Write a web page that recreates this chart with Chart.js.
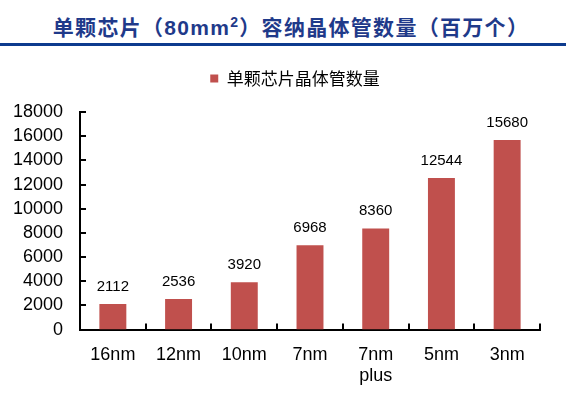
<!DOCTYPE html>
<html>
<head>
<meta charset="utf-8">
<script src="https://cdn.jsdelivr.net/npm/chart.js@4.4.0/dist/chart.umd.min.js"></script>
<style>
  html, body { margin: 0; padding: 0; background: #fff; }
  #wrap { position: relative; width: 566px; height: 393px; overflow: hidden; }
  #title {
    position: absolute; left: 8px; top: 10px; width: 566px; text-align: center;
    font-family: "Noto Sans CJK SC", sans-serif; font-weight: bold; font-size: 21px;
    color: #1f3a8a; letter-spacing: 1.3px; line-height: 32px;
  }
  #title sup { font-size: 14px; line-height: 0; }
  #rule { position: absolute; left: 0; top: 43px; width: 566px; height: 3px; background: #0d3b8e; }
  #chart { position: absolute; left: 0; top: 0; }
</style>
</head>
<body>
<div id="wrap">
  <div id="title">单颗芯片（<span style="font-family:Arial, 'Liberation Sans', sans-serif">80mm<sup>2</sup></span>）容纳晶体管数量（百万个）</div>
  <div id="rule"></div>
  <canvas id="chart" width="566" height="393"></canvas>
</div>
<script>
// 工艺节点
const nodes = ['16nm', '12nm', '10nm', '7nm', ['7nm', 'plus'], '5nm', '3nm'];
// 单颗芯片晶体管数量（百万个）
const transistors = [2112, 2536, 3920, 6968, 8360, 12544, 15680];
const seriesName = '单颗芯片晶体管数量';

// 柱顶数值、Y轴标签、向内的刻度线
const barLabels = {
  id: 'barLabels',
  afterDatasetsDraw(chart) {
    const ctx = chart.ctx;
    const meta = chart.getDatasetMeta(0);
    const x = chart.scales.x, y = chart.scales.y;
    ctx.save();
    ctx.fillStyle = '#000';
    ctx.font = '15px Arial, "Liberation Sans", sans-serif';
    ctx.textAlign = 'center';
    ctx.textBaseline = 'bottom';
    meta.data.forEach((bar, i) => {
      ctx.fillText(transistors[i], bar.x, bar.y - 10);
    });

    ctx.font = '18px Arial, "Liberation Sans", sans-serif';
    ctx.textAlign = 'right';
    ctx.textBaseline = 'middle';
    y.ticks.forEach(t => {
      ctx.fillText(String(t.value), y.right - 17, y.getPixelForValue(t.value));
    });

    ctx.strokeStyle = '#000';
    ctx.lineWidth = 2;
    ctx.beginPath();
    y.ticks.forEach(t => {
      const py = Math.round(y.getPixelForValue(t.value));
      ctx.moveTo(y.right, py);
      ctx.lineTo(y.right + 6, py);
    });
    for (let i = 1; i <= nodes.length; i++) {
      const px = Math.round(x.left + (x.right - x.left) * i / nodes.length);
      ctx.moveTo(px, x.top);
      ctx.lineTo(px, x.top - 6);
    }
    ctx.stroke();
    ctx.restore();
  }
};

const ctx = document.getElementById('chart').getContext('2d');
new Chart(ctx, {
  type: 'bar',
  data: {
    labels: nodes,
    datasets: [{
      label: seriesName,
      data: transistors,
      backgroundColor: '#c0504d',
      barPercentage: 0.41,
      categoryPercentage: 1.0
    }]
  },
  options: {
    responsive: false,
    animation: false,
    layout: { padding: { top: 43, right: 26, bottom: -8, left: 50 } },
    plugins: {
      legend: {
        position: 'top',
        labels: {
          boxWidth: 8, boxHeight: 8, color: '#000',
          font: { family: '"Noto Sans CJK SC", sans-serif', size: 17 },
          padding: 27
        }
      },
      // 图例与绘图区之间的留白
      subtitle: {
        display: true, text: '', weight: 500, padding: 0,
        font: { size: 12, lineHeight: 1.25 }
      },
      tooltip: { enabled: false }
    },
    scales: {
      x: {
        grid: { display: false, drawTicks: false },
        border: { color: '#000', width: 2 },
        ticks: {
          color: '#000', padding: 15,
          font: { family: 'Arial, "Liberation Sans", sans-serif', size: 18, lineHeight: 1.15 }
        }
      },
      y: {
        min: 0, max: 18000,
        afterFit: scale => { scale.width = 30; },
        grid: { display: false, drawTicks: false },
        border: { color: '#000', width: 2 },
        ticks: { stepSize: 2000, display: false }
      }
    }
  },
  plugins: [barLabels]
});
</script>
</body>
</html>
